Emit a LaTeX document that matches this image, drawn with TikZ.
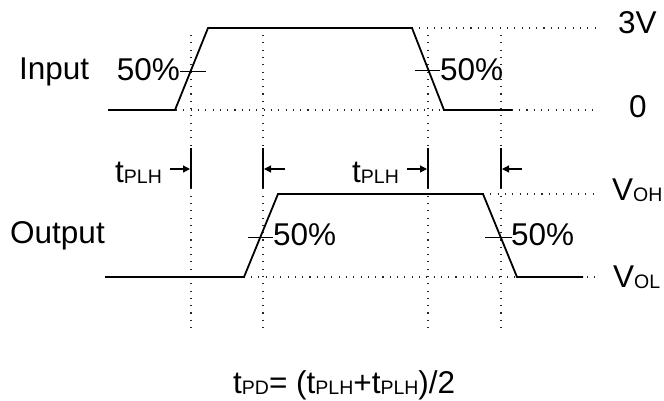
\documentclass[tikz,border=0pt]{standalone}
\usepackage{fontspec}
\setmainfont{Liberation Sans}
\usetikzlibrary{arrows.meta}
\newcommand{\sbs}[1]{\raisebox{-1.5pt}{\fontsize{19.5}{20}\selectfont #1}}
\tikzset{
  wave/.style={line width=1.8pt, line join=miter},
  dotline/.style={line width=1.1pt, dash pattern=on 1.1pt off 6.2pt, black!85},
  tick/.style={line width=1pt},
  bar/.style={line width=1.8pt},
  darrow/.style={line width=1.2pt, -{Triangle[length=7pt,width=7pt]}},
  lbl/.style={inner sep=0pt, font=\fontsize{31.5}{32}\selectfont},
}
\begin{document}
\begin{tikzpicture}[x=1pt,y=-1pt]
\useasboundingbox (0,0) rectangle (664,400);
% coordinates of the four guide lines
\coordinate (atop) at (191,35); \coordinate (abot) at (191,328);
\coordinate (btop) at (263,35); \coordinate (bbot) at (263,328);
\coordinate (ctop) at (428,35); \coordinate (cbot) at (428,328);
\coordinate (dtop) at (501,35); \coordinate (dbot) at (501,328);
\coordinate (abt) at (191,148); \coordinate (abb) at (191,188);
\coordinate (bbt) at (263,148); \coordinate (bbb) at (263,188);
\coordinate (cbt) at (428,148); \coordinate (cbb) at (428,188);
\coordinate (dbt) at (501,148); \coordinate (dbb) at (501,188);
\coordinate (aar) at (190,169); \coordinate (bar) at (264,169);
\coordinate (car) at (427,169); \coordinate (dar) at (502,169);
\coordinate (a0) at (170,169); \coordinate (b0) at (285,169);
\coordinate (c0) at (407,169); \coordinate (d0) at (522,169);
% vertical dotted guides
\draw[dotline] (atop) -- (abot);
\draw[dotline] (btop) -- (bbot);
\draw[dotline] (ctop) -- (cbot);
\draw[dotline] (dtop) -- (dbot);
% horizontal dotted guides
\coordinate (i3a) at (412,28); \coordinate (i3b) at (597,28);
\coordinate (i0a) at (176,110); \coordinate (i0b) at (597,110);
\coordinate (ohA) at (483,194); \coordinate (ohB) at (597,194);
\coordinate (olA) at (178,277); \coordinate (olB) at (597,277);
\draw[dotline] (i3a) -- (i3b);
\draw[dotline] (i0a) -- (i0b);
\draw[dotline] (ohA) -- (ohB);
\draw[dotline] (olA) -- (olB);
% waveforms
\draw[wave] (108,110) -- (175,110) -- (208,28) -- (412,28) -- (444,110) -- (512,110);
\draw[wave] (105,277) -- (244,277) -- (278,194) -- (483,194) -- (517,277) -- (583,277);
% 50% ticks
\draw[tick] (180,71) -- (206,71);
\draw[tick] (415,70) -- (440,70);
\draw[tick] (248,237) -- (273,237);
\draw[tick] (485,237) -- (512,237);
% bars
\draw[bar] (abt) -- (abb);
\draw[bar] (bbt) -- (bbb);
\draw[bar] (cbt) -- (cbb);
\draw[bar] (dbt) -- (dbb);
% arrows
\draw[darrow] (a0) -- (aar);
\draw[darrow] (b0) -- (bar);
\draw[darrow] (c0) -- (car);
\draw[darrow] (d0) -- (dar);
% labels
\node[lbl, anchor=base west] (input) at (19,79) {Input};
\node[lbl, anchor=base west] (output) at (10,243) {Output};
\node[lbl, anchor=base east] (p1) at (180,80) {50\%};
\node[lbl, anchor=base west] (p2) at (440,80) {50\%};
\node[lbl, anchor=base west] (p3) at (273,245) {50\%};
\node[lbl, anchor=base west] (p4) at (511,245) {50\%};
\node[lbl, anchor=base west] (v3) at (618,33) {3V};
\node[lbl, anchor=base west] (v0) at (629,117) {0};
\node[lbl, anchor=base west] (voh) at (612,200) {V\sbs{OH}};
\node[lbl, anchor=base west] (vol) at (613,287) {V\sbs{OL}};
\node[lbl, anchor=base west] (t1) at (115,182) {t\sbs{PLH}};
\node[lbl, anchor=base west] (t2) at (352,182) {t\sbs{PLH}};
\node[lbl, anchor=base west] (form) at (233,393) {t\sbs{PD}= (t\sbs{PLH}+t\sbs{PLH})/2};
\end{tikzpicture}
\end{document}
